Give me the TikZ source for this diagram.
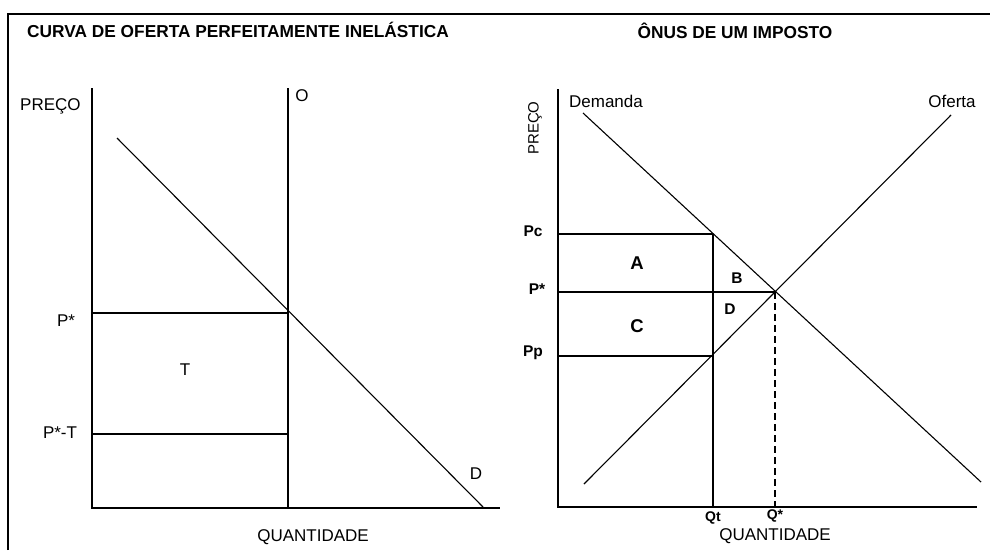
\documentclass[tikz,border=0pt]{standalone}
\usepackage{fontspec}
\setmainfont{Liberation Sans}
\begin{document}
\begin{tikzpicture}[x=1pt,y=-1pt,
  ln/.style={line width=1.1pt,black},
  frame/.style={line width=1.6pt,black},
  reg/.style={inner sep=0pt,font=\fontsize{17}{19}\selectfont},
  bld/.style={inner sep=0pt,font=\fontsize{15.5}{18}\selectfont\bfseries},
  bigb/.style={inner sep=0pt,font=\fontsize{18.5}{21}\selectfont\bfseries},
  smb/.style={inner sep=0pt,font=\fontsize{14}{16}\selectfont\bfseries},
  ttl/.style={inner sep=0pt,font=\fontsize{17.3}{20}\selectfont\bfseries},
  dsh/.style={line width=1.1pt,dash pattern=on 7pt off 4pt}]
\useasboundingbox (0,0) rectangle (990,550);
% frame
\coordinate (fTL) at (8,14);
\coordinate (fTR) at (990,14);
\coordinate (fBL) at (8,550);
\draw[frame] (fBL) -- (fTL) -- (fTR);
% titles
\node[ttl,anchor=west] (t1) at (27,30) {CURVA DE OFERTA PERFEITAMENTE INELÁSTICA};
\node[ttl] (t2) at (735,31) {ÔNUS DE UM IMPOSTO};
% ---- left plot
\coordinate (L0) at (92,508);
\coordinate (Ltop) at (92,88);
\coordinate (Lx) at (500,508);
\coordinate (Stop) at (288,88);
\coordinate (Sbot) at (288,508);
\coordinate (Da) at (117,138);
\coordinate (Db) at (483,507);
\coordinate (Lp1) at (92,313);
\coordinate (Lp2) at (288,313);
\coordinate (Lt1) at (92,434);
\coordinate (Lt2) at (288,434);
\draw[ln] (Ltop) -- (L0) -- (Lx);
\draw[ln] (Stop) -- (Sbot);
\draw[ln] (Da) -- (Db);
\draw[ln] (Lp1) -- (Lp2);
\draw[ln] (Lt1) -- (Lt2);
\node[reg,anchor=west] (lpreco) at (20,106) {PREÇO};
\node[reg] (lO) at (302,96) {O};
\node[reg] (lPs) at (66,321) {P*};
\node[reg] (lT) at (185,370) {T};
\node[reg] (lPT) at (60,433) {P*-T};
\node[reg] (lD) at (476,474) {D};
\node[reg] (lQ) at (313,537) {QUANTIDADE};
% ---- right plot
\coordinate (R0) at (558,507);
\coordinate (Rtop) at (558,89);
\coordinate (Rx) at (977,507);
\coordinate (Pc1) at (558,234);
\coordinate (Pc2) at (713,234);
\coordinate (Ps1) at (558,292);
\coordinate (Ps2) at (775,292);
\coordinate (Pp1) at (558,356);
\coordinate (Pp2) at (713,356);
\coordinate (Qt0) at (713,507);
\coordinate (Qs0) at (775,507);
\coordinate (Dm1) at (583,113);
\coordinate (Dm2) at (981,482);
\coordinate (Of1) at (584,484);
\coordinate (Of2) at (951,115);
\draw[ln] (Rtop) -- (R0) -- (Rx);
\draw[ln] (Pc1) -- (Pc2);
\draw[ln] (Ps1) -- (Ps2);
\draw[ln] (Pp1) -- (Pp2);
\draw[ln] (Pc2) -- (Qt0);
\draw[dsh] (Ps2) -- (Qs0);
\draw[ln] (Dm1) -- (Dm2);
\draw[ln] (Of1) -- (Of2);
\node[reg] (rdem) at (606,101) {Demanda};
\node[reg] (rof) at (952,101) {Oferta};
\node[inner sep=0pt,font=\fontsize{15}{17}\selectfont,rotate=90] (rpreco) at (535,128) {PREÇO};
\node[bld] (rPc) at (533,231) {Pc};
\node[bld] (rPs) at (537,289) {P*};
\node[bld] (rPp) at (533,353) {Pp};
\node[bigb] (rA) at (637,263) {A};
\node[bld] (rB) at (737,278) {B};
\node[bigb] (rC) at (637,326) {C};
\node[bld] (rD) at (730,309) {D};
\node[smb] (rQt) at (713,518) {Qt};
\node[smb] (rQs) at (775,516) {Q*};
\node[reg] (rQ) at (775,536) {QUANTIDADE};
\end{tikzpicture}
\end{document}
